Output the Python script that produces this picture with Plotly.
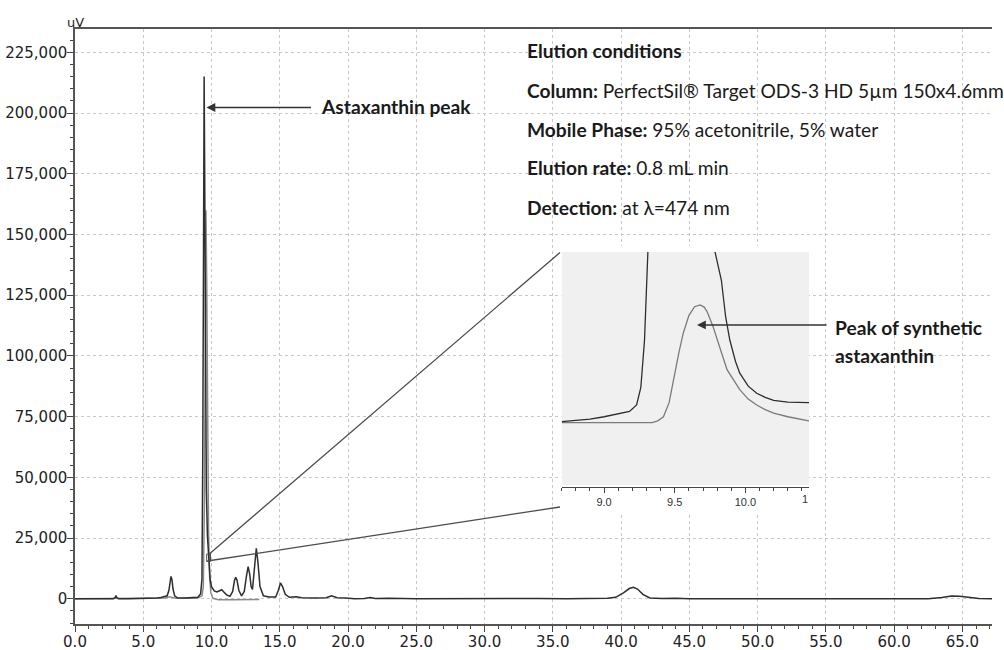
import plotly.graph_objects as go

# ---------------- data ----------------
# main chromatogram, sample (dark trace)
sample_time = [0.0, 2.80, 2.95, 3.00, 3.05, 3.20, 4.00, 5.00, 5.60, 6.00, 6.30, 6.55, 6.75, 6.88, 6.97,
               7.03, 7.10, 7.18, 7.30, 7.50, 8.00, 8.50, 9.00, 9.20, 9.30, 9.36, 9.42, 9.46, 9.50, 9.55,
               9.62, 9.70, 9.80, 9.90, 10.00, 10.20, 10.40, 10.60, 10.75, 10.90, 11.10, 11.35, 11.55,
               11.68, 11.77, 11.86, 12.00, 12.20, 12.40, 12.55, 12.68, 12.80, 12.90, 13.00, 13.15, 13.28,
               13.40, 13.55, 13.80, 14.20, 14.70, 14.90, 15.05, 15.20, 15.40, 15.70, 16.20, 16.60, 17.50,
               18.40, 18.80, 19.20, 19.80, 20.50, 21.20, 21.60, 22.00, 23.00, 25.00, 28.00, 31.00, 34.00,
               36.00, 38.00, 39.00, 39.60, 40.20, 40.60, 40.90, 41.20, 41.60, 42.10, 43.00, 44.00, 45.00,
               50.00, 55.00, 60.00, 61.00, 61.50, 62.50, 63.50, 64.20, 64.80, 65.50, 66.20, 67.17]
sample_uv = [0, 0, 600, 1300, 500, 0, 0, 0, 200, 300, 500, 900, 1200, 3500, 7500,
             9200, 8000, 4000, 1200, 400, 300, 300, 600, 2000, 8000, 60000, 180000, 215000, 175000, 95000,
             45000, 26000, 14000, 8000, 5000, 3200, 2800, 3500, 3700, 2800, 1600, 1000, 3000,
             7500, 8800, 7800, 3500, 1200, 3000, 9000, 13200, 10000, 5000, 3800, 12000, 20800,
             15000, 5000, 1200, 700, 700, 3500, 6500, 5000, 1800, 600, 800, 400, 300,
             400, 1200, 400, 300, 0, 100, 500, 100, 200, 0, 100, 0, 100,
             0, 0, 200, 600, 2500, 4200, 4700, 4000, 1800, 300, 100, 200, 0,
             0, 0, 0, 200, 100, 0, 500, 1100, 1000, 500, 100, 0]

# main chromatogram, synthetic astaxanthin standard (grey trace)
standard_time = [0.0, 3.0, 6.0, 6.6, 6.9, 7.1, 7.4, 8.5, 9.0, 9.30, 9.40, 9.48, 9.54, 9.59, 9.65,
                 9.71, 9.78, 9.86, 9.95, 10.10, 10.50, 11.50, 12.50, 13.50]
standard_uv = [0, 0, 0, 300, 800, 600, 200, 200, 300, 1200, 5000, 40000, 120000, 160000, 130000,
               65000, 28000, 9000, 2500, 200, -400, -400, -300, -300]

# inset (zoom of 8.7 - 10.45 min), relative signal
inset_sample_time = [8.70, 8.90, 9.00, 9.10, 9.18, 9.23, 9.26, 9.286, 9.31, 9.35, 9.45, 9.55, 9.68,
                     9.75, 9.785, 9.83, 9.86, 9.89, 9.93, 9.96, 10.02, 10.08, 10.14, 10.20, 10.30, 10.45]
inset_sample = [0.8, 3, 5, 7.5, 9.5, 15, 30, 70, 150, 300, 700, 900, 500,
                200, 145, 121, 90, 70, 52, 42, 31, 25, 21.5, 19, 17.5, 17]
inset_std_time = [8.70, 9.34, 9.38, 9.42, 9.46, 9.49, 9.53, 9.56, 9.60, 9.64, 9.68, 9.71, 9.73,
                  9.77, 9.80, 9.84, 9.87, 9.92, 9.96, 10.02, 10.08, 10.14, 10.20, 10.30, 10.45]
inset_std = [0, 0, 1.5, 5, 17, 36, 60, 76, 91, 98.5, 100, 98, 94,
             82, 70, 56, 45, 35, 28, 20, 15, 11, 8, 5, 1.5]

# ---------------- geometry helpers ----------------
W, H = 1004, 650
L, R, T, B = 75, 12, 29, 26
PW, PH = W - L - R, H - T - B


def px(x):
    return (x - L) / PW


def py(y):
    return (H - B - y) / PH


X_RANGE = [0, 67.17]
Y_RANGE = [-10400, 234600]
INSET_X = [8.70, 10.45]
INSET_Y = [-53.0, 145.0]

DARK = "#2e2e2e"
GREY = "#8a8a8a"
TXT = "#1a1a1a"
ANN_FONT = "Lato"
ANN_SIZE = 19.2

fig = go.Figure()

fig.add_trace(go.Scatter(x=standard_time, y=standard_uv, mode="lines",
                         line=dict(color=GREY, width=1.5), xaxis="x", yaxis="y", hoverinfo="skip"))
fig.add_trace(go.Scatter(x=sample_time, y=sample_uv, mode="lines",
                         line=dict(color=DARK, width=1.5), xaxis="x", yaxis="y", hoverinfo="skip"))

# helper subplot (white background around the inset, hides the main grid there)
fig.add_trace(go.Scatter(x=[], y=[], xaxis="x2", yaxis="y2", hoverinfo="skip"))

# inset traces
fig.add_trace(go.Scatter(x=inset_std_time, y=inset_std, mode="lines",
                         line=dict(color="#7a7a7a", width=1.3), xaxis="x3", yaxis="y3", hoverinfo="skip"))
fig.add_trace(go.Scatter(x=inset_sample_time, y=inset_sample, mode="lines",
                         line=dict(color=DARK, width=1.3), xaxis="x3", yaxis="y3", hoverinfo="skip"))

tickfont = dict(family="DejaVu Sans", size=15, color="#222222")

inset_left, inset_right = 561.7, 809.0
box_top, box_bottom = 252.0, 485.0
white_top, white_bottom = 246.0, 512.0

layout = dict(
    width=W, height=H,
    margin=dict(l=L, r=R, t=T, b=B, pad=0, autoexpand=False),
    paper_bgcolor="white", plot_bgcolor="white",
    showlegend=False,
    xaxis=dict(domain=[0, 1], range=X_RANGE, tickmode="linear", tick0=0, dtick=5, tickformat=".1f",
               ticks="outside", ticklen=6, tickwidth=1.3, tickcolor="#444444", ticklabelstandoff=-3,
               showline=True, linecolor="#555555", linewidth=1.5, mirror=True,
               showgrid=True, gridcolor="#c8c8c8", griddash="dot", gridwidth=1,
               minor=dict(dtick=1, ticks="outside", ticklen=3, tickwidth=1.2, tickcolor="#444444", showgrid=False),
               zeroline=False, tickfont=tickfont, anchor="y", automargin=False),
    yaxis=dict(domain=[0, 1], range=Y_RANGE, tickmode="linear", tick0=0, dtick=25000, tickformat=",d",
               ticks="outside", ticklen=6, tickwidth=1.3, tickcolor="#444444", ticklabelstandoff=-3,
               showline=True, linecolor="#555555", linewidth=1.5,
               showgrid=True, gridcolor="#c8c8c8", griddash="dot", gridwidth=1,
               minor=dict(dtick=5000, ticks="outside", ticklen=3, tickwidth=1.2, tickcolor="#444444", showgrid=False),
               zeroline=False, tickfont=tickfont, anchor="x", automargin=False),
    xaxis2=dict(domain=[px(inset_left), px(inset_right)], range=[0, 1], visible=False, anchor="y2",
                fixedrange=True, automargin=False),
    yaxis2=dict(domain=[py(white_bottom), py(white_top)], range=[0, 1], visible=False, anchor="x2",
                fixedrange=True, automargin=False),
    xaxis3=dict(domain=[px(inset_left), px(inset_right)], range=INSET_X, anchor="free", position=py(486.8),
                tickmode="linear", tick0=9.0, dtick=0.5, tickformat=".1f",
                ticks="outside", ticklen=5, tickwidth=1, tickcolor="#444444",
                showline=True, linecolor="#444444", linewidth=1.2,
                minor=dict(dtick=0.1, ticks="outside", ticklen=3, tickwidth=1, tickcolor="#444444", showgrid=False),
                showgrid=False, zeroline=False, automargin=False,
                tickfont=dict(family="Liberation Sans", size=11, color="#333333")),
    yaxis3=dict(domain=[py(box_bottom), py(box_top)], range=INSET_Y, visible=False, anchor="x3", automargin=False),
)
fig.update_layout(**layout)

# grey inset plotting area, drawn in the inset subplot's own lower shape layer
fig.add_shape(type="rect", xref="x3", yref="y3", x0=INSET_X[0], x1=INSET_X[1], y0=INSET_Y[0], y1=INSET_Y[1],
              fillcolor="#f0f0f0", line=dict(width=0), layer="below")

# zoom connector lines and small marker box (main data coordinates)
px_per_min = PW / (X_RANGE[1] - X_RANGE[0])
uv_per_px = (Y_RANGE[1] - Y_RANGE[0]) / PH


def dx(xp):
    return X_RANGE[0] + (xp - L) / px_per_min


def dy(yp):
    return Y_RANGE[1] - (yp - T) * uv_per_px


conn = dict(color="#4a4a4a", width=1.3)
fig.add_shape(type="line", xref="x", yref="y", x0=dx(209.3), y0=dy(554), x1=dx(560), y1=dy(252.5), line=conn)
fig.add_shape(type="line", xref="x", yref="y", x0=dx(207.3), y0=dy(561), x1=dx(560), y1=dy(507), line=conn)
fig.add_shape(type="rect", xref="x", yref="y", x0=dx(206.7), x1=dx(210.5), y0=dy(561.5), y1=dy(554),
              line=dict(color="#4a4a4a", width=1))

# annotations
ann = []
ann.append(dict(text="uV", xref="paper", yref="paper", x=px(75.5), y=py(22), xanchor="center", yanchor="middle",
                showarrow=False, font=dict(family="DejaVu Sans", size=13, color="#222222")))

# Astaxanthin peak arrow + label
ann.append(dict(text="", xref="x", yref="y", x=dx(206.5), y=dy(107.5), ax=106, ay=0, axref="pixel", ayref="pixel",
                showarrow=True, arrowhead=2, arrowsize=1.1, arrowwidth=1.6, arrowcolor="#333333"))
ann.append(dict(text="<b>Astaxanthin peak</b>", xref="paper", yref="paper", x=px(319), y=py(107),
                xanchor="left", yanchor="middle", showarrow=False,
                font=dict(family=ANN_FONT, size=ANN_SIZE, color=TXT)))

# synthetic peak arrow + label
ann.append(dict(text="", xref="x3", yref="y3", x=9.0 + (697 - 604.3) / 141.0, y=(422.7 - 325) / 1.177,
                ax=131, ay=0, axref="pixel", ayref="pixel",
                showarrow=True, arrowhead=2, arrowsize=1.1, arrowwidth=1.6, arrowcolor="#333333"))
ann.append(dict(text="<b>Peak of synthetic</b>", xref="paper", yref="paper", x=px(833), y=py(327),
                xanchor="left", yanchor="middle", showarrow=False,
                font=dict(family=ANN_FONT, size=ANN_SIZE, color=TXT)))
ann.append(dict(text="<b>astaxanthin</b>", xref="paper", yref="paper", x=px(833), y=py(355),
                xanchor="left", yanchor="middle", showarrow=False,
                font=dict(family=ANN_FONT, size=ANN_SIZE, color=TXT)))

# clipped "10.5" inset tick label remnant
ann.append(dict(text="1", xref="paper", yref="paper", x=px(809.5), y=py(499), xanchor="right", yanchor="middle",
                showarrow=False, font=dict(family="Liberation Sans", size=11, color="#333333")))

# elution conditions block
cond_lines = [
    "<b>Elution conditions</b>",
    "<b>Column:</b> PerfectSil® Target ODS-3 HD 5µm 150x4.6mm",
    "<b>Mobile Phase:</b> 95% acetonitrile, 5% water",
    "<b>Elution rate:</b> 0.8 mL min",
    "<b>Detection:</b> at λ=474 nm",
]
cond_y = [51, 91, 130, 168, 207]
for t, yy in zip(cond_lines, cond_y):
    ann.append(dict(text=t, xref="paper", yref="paper", x=px(525), y=py(yy), xanchor="left", yanchor="middle",
                    showarrow=False, font=dict(family=ANN_FONT, size=ANN_SIZE, color=TXT)))

fig.update_layout(annotations=ann)

fig.write_html("out.html")
